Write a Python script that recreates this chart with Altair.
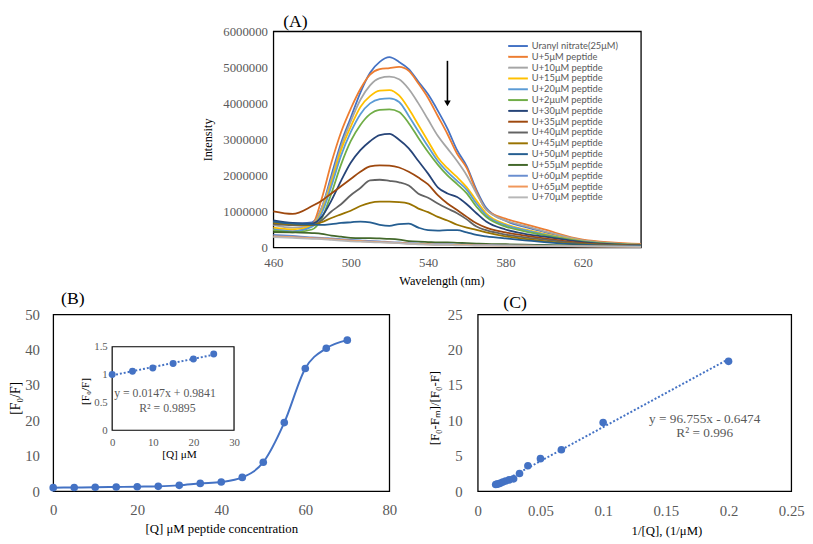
import altair as alt
import pandas as pd

FONT = "Liberation Serif"
GRAY = "#595959"
BLUE = "#4472C4"

# ---------------- Panel A data (intensity in millions) ----------------
wavelengths = [460, 470, 480, 485, 490, 495, 500, 505, 510, 515, 520, 525, 530,
               535, 540, 545, 550, 555, 560, 565, 570, 580, 590, 600, 620, 650]
series_names = ["Uranyl nitrate(25\u03bcM)", "U+5\u03bcM peptide", "U+10\u03bcM peptide",
                "U+15\u03bcM peptide", "U+20\u03bcM peptide", "U+2\u03bcuM peptide",
                "U+30\u03bcM peptide", "U+35\u03bcM peptide", "U+40\u03bcM peptide",
                "U+45\u03bcM peptide", "U+50\u03bcM peptide", "U+55\u03bcM peptide",
                "U+60\u03bcM peptide", "U+65\u03bcM peptide", "U+70\u03bcM peptide"]
series_colors = ["#4472C4", "#ED7D31", "#A5A5A5", "#FFC000", "#5B9BD5", "#70AD47",
                 "#264478", "#9E480E", "#636363", "#997300", "#255E91", "#43682B",
                 "#698ED0", "#F1975A", "#B7B7B7"]
u0 = [0.72, 0.66, 0.70, 1.10, 2.00, 2.90, 3.60, 4.30, 4.85, 5.15, 5.28, 5.15, 4.95,
      4.60, 4.25, 3.80, 3.30, 2.70, 2.25, 1.60, 1.10, 0.74, 0.57, 0.43, 0.20, 0.08]
u5 = [0.50, 0.45, 0.62, 1.35, 2.35, 3.20, 3.85, 4.40, 4.80, 4.95, 4.98, 5.01, 4.90,
      4.55, 4.15, 3.65, 3.15, 2.60, 2.20, 1.55, 1.05, 0.80, 0.65, 0.50, 0.22, 0.10]
u10 = [0.62, 0.55, 0.62, 1.10, 1.90, 2.80, 3.50, 4.10, 4.50, 4.70, 4.74, 4.67, 4.40,
       4.00, 3.55, 3.10, 2.75, 2.40, 2.00, 1.50, 1.05, 0.75, 0.60, 0.45, 0.20, 0.08]
u15 = [0.55, 0.50, 0.60, 1.00, 1.80, 2.70, 3.35, 3.90, 4.20, 4.35, 4.37, 4.22, 3.85,
       3.40, 2.95, 2.50, 2.20, 1.95, 1.67, 1.30, 0.95, 0.65, 0.50, 0.38, 0.18, 0.07]
u20 = [0.50, 0.45, 0.58, 0.95, 1.70, 2.55, 3.20, 3.70, 4.00, 4.12, 4.14, 4.04, 3.65,
       3.22, 2.80, 2.40, 2.10, 1.85, 1.60, 1.22, 0.90, 0.62, 0.48, 0.36, 0.17, 0.07]
u25 = [0.48, 0.42, 0.50, 0.80, 1.50, 2.30, 2.95, 3.40, 3.70, 3.82, 3.83, 3.76, 3.45,
       3.04, 2.65, 2.30, 2.00, 1.76, 1.50, 1.13, 0.85, 0.58, 0.45, 0.34, 0.16, 0.07]
u30 = [0.75, 0.68, 0.66, 0.85, 1.30, 1.85, 2.35, 2.70, 2.95, 3.12, 3.15, 2.99, 2.75,
       2.40, 2.05, 1.67, 1.50, 1.40, 1.20, 0.95, 0.72, 0.50, 0.38, 0.30, 0.15, 0.06]
u35 = [1.00, 0.93, 1.15, 1.30, 1.50, 1.70, 1.90, 2.10, 2.25, 2.28, 2.27, 2.22, 2.10,
       1.94, 1.75, 1.45, 1.22, 1.04, 0.85, 0.67, 0.55, 0.42, 0.33, 0.25, 0.12, 0.05]
u40 = [0.65, 0.62, 0.62, 0.75, 1.00, 1.20, 1.45, 1.65, 1.86, 1.88, 1.85, 1.81, 1.72,
       1.49, 1.38, 1.22, 1.08, 0.95, 0.78, 0.58, 0.48, 0.36, 0.28, 0.22, 0.10, 0.05]
u45 = [0.68, 0.64, 0.62, 0.70, 0.82, 0.92, 1.02, 1.15, 1.24, 1.27, 1.27, 1.26, 1.22,
       1.08, 0.98, 0.85, 0.75, 0.63, 0.55, 0.49, 0.42, 0.31, 0.24, 0.18, 0.09, 0.04]
u50 = [0.72, 0.66, 0.64, 0.63, 0.65, 0.68, 0.70, 0.72, 0.70, 0.63, 0.60, 0.65, 0.66,
       0.55, 0.48, 0.47, 0.48, 0.48, 0.42, 0.35, 0.31, 0.25, 0.20, 0.15, 0.08, 0.04]
u55 = [0.43, 0.42, 0.40, 0.38, 0.33, 0.30, 0.27, 0.26, 0.26, 0.25, 0.24, 0.22, 0.18,
       0.16, 0.15, 0.14, 0.14, 0.13, 0.12, 0.11, 0.10, 0.09, 0.08, 0.07, 0.05, 0.03]
u60 = [0.35, 0.32, 0.28, 0.27, 0.25, 0.23, 0.21, 0.20, 0.18, 0.17, 0.15, 0.14, 0.12,
       0.11, 0.10, 0.09, 0.09, 0.08, 0.08, 0.07, 0.07, 0.06, 0.06, 0.05, 0.04, 0.03]
u65 = [0.31, 0.29, 0.26, 0.25, 0.23, 0.21, 0.19, 0.18, 0.16, 0.15, 0.14, 0.13, 0.11,
       0.10, 0.09, 0.08, 0.08, 0.07, 0.07, 0.06, 0.06, 0.05, 0.05, 0.04, 0.03, 0.02]
u70 = [0.29, 0.27, 0.24, 0.23, 0.21, 0.19, 0.17, 0.16, 0.15, 0.14, 0.13, 0.12, 0.10,
       0.09, 0.08, 0.07, 0.07, 0.06, 0.06, 0.05, 0.05, 0.05, 0.04, 0.04, 0.03, 0.02]
all_series = [u0, u5, u10, u15, u20, u25, u30, u35, u40, u45, u50, u55, u60, u65, u70]

a_x_ticks = [460, 500, 540, 580, 620]
a_y_ticks = [0, 1000000, 2000000, 3000000, 4000000, 5000000, 6000000]
arrow_wl = [550]
arrow_top = [5180000]
arrow_tip = [4000000]

# ---------------- Panel B data ----------------
conc = [0, 5, 10, 15, 20, 25, 30, 35, 40, 45, 50, 55, 60, 65, 70]
f0_over_f = [1.0, 1.06, 1.12, 1.2, 1.28, 1.37, 1.65, 2.2, 2.6, 3.9, 8.2, 19.4, 34.7, 40.4, 42.7]
b_x_ticks = [0, 20, 40, 60, 80]
b_y_ticks = [0, 10, 20, 30, 40, 50]
inset_conc = [0, 5, 10, 15, 20, 25]
inset_f = [1.0, 1.06, 1.12, 1.2, 1.28, 1.37]
inset_x_ticks = [0, 10, 20, 30]
inset_y_ticks = [0, 0.5, 1, 1.5]
inset_text = ["y = 0.0147x + 0.9841", "R\u00b2 = 0.9895"]
inset_text_x = [13.0, 13.6]
inset_text_y = [0.66, 0.40]

# ---------------- Panel C data ----------------
inv_q = [0.2, 0.1, 0.0667, 0.05, 0.04, 0.0333, 0.0286, 0.025, 0.0222, 0.02,
         0.0182, 0.0167, 0.0154, 0.0143]
quench = [18.35, 9.7, 5.85, 4.6, 3.6, 2.5, 1.75, 1.6, 1.45, 1.3, 1.15, 1.05, 1.0, 0.95]
c_x_ticks = [0, 0.05, 0.1, 0.15, 0.2, 0.25]
c_y_ticks = [0, 5, 10, 15, 20, 25]
c_text = ["y = 96.755x - 0.6474", "R\u00b2 = 0.996"]
c_text_x = [0.181, 0.181]
c_text_y = [10.2, 8.2]

frame = alt.ViewBackground(stroke="black", strokeWidth=1.3, fill="white")

# ================= Panel A =================
rows = []
for name, vals in zip(series_names, all_series):
    for w, v in zip(wavelengths, vals):
        rows.append({"wl": w, "I": v * 1e6, "series": name})
dfA = pd.DataFrame(rows)

a_scale_y = alt.Scale(domain=[0, 6000000], nice=False)
a_axis_y = alt.Axis(values=a_y_ticks, format="d", title="Intensity", labelFontSize=13,
                    labelPadding=6, titleFontSize=12.5, titleX=-67, titleY=110,
                    titleBaseline="middle", titleAlign="center", titleAngle=-90,
                    labelOverlap=False)
ax_x = alt.X("wl:Q", scale=alt.Scale(domain=[460, 650], nice=False, zero=False),
             axis=alt.Axis(values=a_x_ticks, title="Wavelength (nm)", labelFontSize=13,
                           labelPadding=9, titleFontSize=12.5, titleX=171, titleY=34,
                           titleBaseline="middle", titleAlign="center"))
ax_y = alt.Y("I:Q", scale=a_scale_y, axis=a_axis_y)

linesA = alt.Chart(dfA).mark_line(interpolate="monotone", strokeWidth=1.8).encode(
    x=ax_x, y=ax_y,
    color=alt.Color("series:N", sort=series_names,
                    scale=alt.Scale(domain=series_names, range=series_colors),
                    legend=alt.Legend(title=None, orient="none", legendX=238, legendY=9,
                                      symbolType="M-1,0H3", symbolSize=100,
                                      symbolStrokeWidth=2, labelOffset=13, rowPadding=0,
                                      labelFont="Lato", labelFontSize=9.5, labelColor=GRAY,
                                      labelLimit=200, padding=0)),
    detail="series:N",
)
dfArrow = pd.DataFrame({"wl": arrow_wl, "I": arrow_top, "I2": arrow_tip})
arrow_line = alt.Chart(dfArrow).mark_rule(color="black", strokeWidth=1.6).encode(
    x=ax_x, y=ax_y, y2="I2:Q")
arrow_head = alt.Chart(dfArrow).mark_point(shape="triangle-down", filled=True, color="black",
                                           opacity=1, size=45).encode(
    x=ax_x, y=alt.Y("I2:Q", scale=a_scale_y, axis=a_axis_y))

A = alt.layer(linesA, arrow_line, arrow_head).properties(
    width=374, height=220, view=frame,
    title=alt.TitleParams("(A)", anchor="start", frame="group", dx=10, offset=-6,
                          font=FONT, fontSize=18, fontWeight="normal", color="black"))

spacer = alt.Chart(pd.DataFrame({"v": [0]})).mark_point(opacity=0).encode(
    x=alt.X("v:Q", axis=None), y=alt.Y("v:Q", axis=None)
).properties(width=150, height=10, view=alt.ViewBackground(strokeOpacity=0, fillOpacity=0))

# ================= Panel B =================
dfB = pd.DataFrame({"q": conc, "f": f0_over_f})
bx = alt.X("q:Q", scale=alt.Scale(domain=[0, 80], nice=False),
           axis=alt.Axis(values=b_x_ticks, title="[Q] \u03bcM peptide concentration",
                         labelFontSize=15, labelPadding=12, titleFontSize=13,
                         titleX=171, titleY=38, titleBaseline="middle", titleAlign="center"))
by = alt.Y("f:Q", scale=alt.Scale(domain=[0, 50], nice=False),
           axis=alt.Axis(values=b_y_ticks, title="[F\u2080/F]", labelFontSize=15,
                         labelPadding=14, titleFontSize=14, titleX=-38, titleY=85,
                         titleBaseline="middle", titleAlign="center", titleAngle=-90))
b_line = alt.Chart(dfB).mark_line(interpolate="monotone", color=BLUE, strokeWidth=2).encode(x=bx, y=by)
b_pts = alt.Chart(dfB).mark_circle(size=60, color=BLUE, opacity=1).encode(x=bx, y=by)
b_main = alt.layer(b_line, b_pts)

ix_scale = alt.Scale(domain=[0, 30], range=[60, 184], nice=False)
iy_scale = alt.Scale(domain=[0, 1.5], range=[118, 33], nice=False)
ix_axis = alt.Axis(orient="bottom", offset=-62, values=inset_x_ticks, title="[Q] \u03bcM",
                   labelFontSize=11, labelPadding=6, titleFontSize=11.5, titleX=128, titleY=25,
                   titleBaseline="middle", titleAlign="center")
iy_axis = alt.Axis(orient="left", offset=-60, values=inset_y_ticks, format="~g",
                   title="[F\u2080/F]", labelFontSize=11, labelPadding=5, titleFontSize=11.5,
                   titleX=-27, titleY=78, titleBaseline="middle", titleAlign="center",
                   titleAngle=-90)
dfBox = pd.DataFrame({"q": [inset_x_ticks[0]], "q2": [inset_x_ticks[-1]],
                      "f": [inset_y_ticks[0]], "f2": [inset_y_ticks[-1]]})
i_box = alt.Chart(dfBox).mark_rect(fill="white", stroke="black", strokeWidth=1.2).encode(
    x=alt.X("q:Q", scale=ix_scale, axis=ix_axis), x2="q2:Q",
    y=alt.Y("f:Q", scale=iy_scale, axis=iy_axis), y2="f2:Q")
dfI = pd.DataFrame({"q": inset_conc, "f": inset_f})
i_trend = alt.Chart(dfI).transform_regression("q", "f").mark_line(
    color=BLUE, strokeWidth=2, strokeDash=[2, 2]).encode(
    x=alt.X("q:Q", scale=ix_scale, axis=ix_axis), y=alt.Y("f:Q", scale=iy_scale, axis=iy_axis))
i_pts = alt.Chart(dfI).mark_circle(size=50, color=BLUE, opacity=1).encode(
    x=alt.X("q:Q", scale=ix_scale, axis=ix_axis), y=alt.Y("f:Q", scale=iy_scale, axis=iy_axis))
dfIT = pd.DataFrame({"q": inset_text_x, "f": inset_text_y, "t": inset_text})
i_txt = alt.Chart(dfIT).mark_text(font=FONT, fontSize=12, color=GRAY).encode(
    x=alt.X("q:Q", scale=ix_scale, axis=ix_axis), y=alt.Y("f:Q", scale=iy_scale, axis=iy_axis),
    text="t:N")
b_inset = alt.layer(i_box, i_trend, i_pts, i_txt)

B = alt.layer(b_main, b_inset).resolve_scale(x="independent", y="independent").properties(
    width=342, height=180, view=frame,
    title=alt.TitleParams("(B)", anchor="start", frame="group", dx=8, offset=0,
                          font=FONT, fontSize=18, fontWeight="normal", color="black"))

# ================= Panel C =================
dfC = pd.DataFrame({"x": inv_q, "y": quench})
cx = alt.X("x:Q", scale=alt.Scale(domain=[0, 0.25], nice=False),
           axis=alt.Axis(values=c_x_ticks, format="~g", title="1/[Q],  (1/\u03bcM)",
                         labelFontSize=15, labelPadding=13, titleFontSize=13,
                         titleX=192, titleY=40, titleBaseline="middle", titleAlign="center"))
cy = alt.Y("y:Q", scale=alt.Scale(domain=[0, 25], nice=False),
           axis=alt.Axis(values=c_y_ticks, title="[F\u2080-F\u2098]/[F\u2080-F]",
                         labelFontSize=15, labelPadding=16, titleFontSize=13,
                         titleX=-44, titleY=95, titleBaseline="middle", titleAlign="center",
                         titleAngle=-90))
c_trend = alt.Chart(dfC).transform_regression("x", "y").mark_line(
    color=BLUE, strokeWidth=2, strokeDash=[2, 2]).encode(x=cx, y=cy)
c_pts = alt.Chart(dfC).mark_circle(size=60, color=BLUE, opacity=1).encode(x=cx, y=cy)
dfCT = pd.DataFrame({"x": c_text_x, "y": c_text_y, "t": c_text})
c_txt = alt.Chart(dfCT).mark_text(font=FONT, fontSize=13.5, color=GRAY).encode(x=cx, y=cy, text="t:N")

C = alt.layer(c_trend, c_pts, c_txt).properties(
    width=319, height=180, view=frame,
    title=alt.TitleParams("(C)", anchor="start", frame="group", dx=26, offset=-5,
                          font=FONT, fontSize=18, fontWeight="normal", color="black"))

top = alt.hconcat(spacer, A, spacing=0).resolve_scale(color="independent").resolve_legend(color="independent")
bottom = alt.hconcat(B, C, spacing=30)
chart = alt.vconcat(top, bottom, spacing=0).resolve_scale(color="independent").resolve_legend(
    color="independent").properties(
    padding=0, background="white"
).configure_axis(
    labelFont=FONT, titleFont=FONT, labelColor=GRAY, titleColor="black",
    titleFontWeight="normal", grid=False, domain=False, ticks=False,
    labelFlush=False, labelOverlap=False
)

chart.save("out.html", embed_options={"renderer": "svg", "actions": False})
